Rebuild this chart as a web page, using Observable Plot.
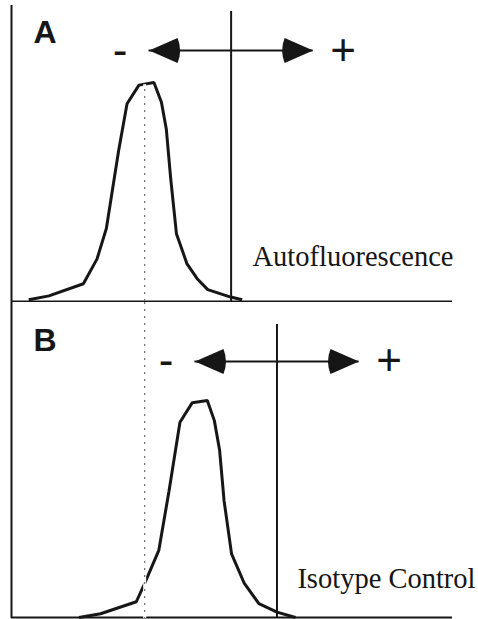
<!DOCTYPE html>
<html>
<head>
<meta charset="utf-8">
<script src="https://cdn.jsdelivr.net/npm/d3@7"></script>
<script src="https://cdn.jsdelivr.net/npm/@observablehq/plot@0.6"></script>
<style>
  html, body { margin: 0; padding: 0; background: #fff; }
  #chart svg { display: block; }
</style>
</head>
<body>
<div id="chart"></div>
<script>
// ---- Data (fluorescence intensity in arbitrary units 0–100, cell count in % of panel scale) ----
const panels = ["A", "B"];
const sampleLabels = ["Autofluorescence", "Isotype Control"];

const intensityA = [3.9, 8.5, 16.3, 19.4, 21.5, 24.3, 26.2, 28.9, 32.3, 34.0, 35.1, 36.1, 37.4, 39.8, 42.1, 44.5, 49.7, 52.3];
const countA     = [0.6, 1.9, 6.0, 14.4, 24.6, 51.0, 66.8, 73.1, 74.0, 67.3, 58.3, 41.5, 22.9, 12.7, 7.7, 4.0, 1.5, 0.6];

const intensityB = [15.3, 20.2, 28.3, 30.0, 33.4, 35.7, 38.2, 41.0, 44.4, 46.0, 47.2, 48.2, 49.9, 52.8, 56.1, 60.2, 64.4];
const countB     = [0, 1.2, 5.0, 10.2, 21.3, 40.0, 62.0, 68.2, 68.9, 62.5, 53.0, 37.1, 20.2, 10.8, 4.4, 1.7, 0];

const gates = [49.8, 60.2];          // gate (cut-off) intensity per panel
const gateTops = [98, 93];           // count level where the gate line ends
const arrowLevels = [84.8, 81.3];    // count level of the -/+ arrow
const arrowHalfSpan = 18.6;          // arrow reaches this far either side of the gate
const autoMode = 30.2;               // mode of the autofluorescence peak
const autoModeCount = 73.6;

// ---- Rendering ----
const ink = "#161616";
const headLeft = {
  draw(ctx) {
    ctx.moveTo(0, 0);
    ctx.lineTo(28.5, -12.5);
    ctx.quadraticCurveTo(33.5, 0, 28.5, 12.5);
    ctx.closePath();
  }
};
const headRight = {
  draw(ctx) {
    ctx.moveTo(0, 0);
    ctx.lineTo(-28.5, -12.5);
    ctx.quadraticCurveTo(-33.5, 0, -28.5, 12.5);
    ctx.closePath();
  }
};

const layouts = [
  {height: 302, marginTop: 5, marginBottom: 1, letterDy: 15, labelDx: 1, labelDy: -36},
  {height: 317, marginTop: 0, marginBottom: 2, letterDy: 26, labelDx: 23, labelDy: -30}
];

function panel(i) {
  const xs = i === 0 ? intensityA : intensityB;
  const ys = i === 0 ? countA : countB;
  const curve = xs.map((x, k) => ({x, y: ys[k]}));
  const gate = gates[i];
  const lo = gate - arrowHalfSpan, hi = gate + arrowHalfSpan;
  const lv = arrowLevels[i];
  const L = layouts[i];
  const dottedOpts = i === 0 ? {y1: 0, y2: autoModeCount} : {};
  return Plot.plot({
    width: 478,
    height: L.height,
    marginLeft: 11,
    marginRight: 26,
    marginTop: L.marginTop,
    marginBottom: L.marginBottom,
    x: {domain: [0, 100], axis: null},
    y: {domain: [0, 100], axis: null},
    style: {fontFamily: "'Liberation Sans', Arial, sans-serif", background: "#fff", color: ink},
    marks: [
      Plot.ruleX([0], {stroke: ink, strokeWidth: 2, insetBottom: -1}),
      Plot.ruleY([0], {stroke: ink, strokeWidth: 2}),
      Plot.line(curve, {x: "x", y: "y", stroke: ink, strokeWidth: 3, strokeLinejoin: "miter", strokeLinecap: "butt"}),
      Plot.ruleX([autoMode], {...dottedOpts, stroke: "#fff", strokeWidth: 3, insetTop: i === 0 ? -3 : 0, insetBottom: -1}),
      Plot.ruleX([autoMode], {...dottedOpts, stroke: "#6e6e6e", strokeWidth: 1.2, strokeDasharray: "2,5", insetBottom: -1}),
      Plot.ruleX([gate], {y1: 0, y2: gateTops[i], stroke: ink, strokeWidth: 2}),
      Plot.ruleY([lv], {x1: lo, x2: hi, stroke: ink, strokeWidth: 2}),
      Plot.dot([lo], {x: d => d, y: () => lv, symbol: headLeft, fill: ink, stroke: "none"}),
      Plot.dot([hi], {x: d => d, y: () => lv, symbol: headRight, fill: ink, stroke: "none"}),
      Plot.text(["-"], {x: () => lo, y: () => lv, dx: -29, fontSize: 44, fill: ink}),
      Plot.text(["+"], {x: () => hi, y: () => lv, dx: 30, fontSize: 44, fill: ink}),
      Plot.text([panels[i]], {frameAnchor: "top-left", dx: 22, dy: L.letterDy, fontSize: 32, fontWeight: "bold", fill: ink}),
      Plot.text([sampleLabels[i]], {frameAnchor: "bottom-right", dx: L.labelDx, dy: L.labelDy, fontSize: 28.5,
        fontFamily: "'Liberation Serif', 'Times New Roman', serif", fill: ink})
    ]
  });
}

const root = document.getElementById("chart");
root.append(panel(0), panel(1));
</script>
</body>
</html>
